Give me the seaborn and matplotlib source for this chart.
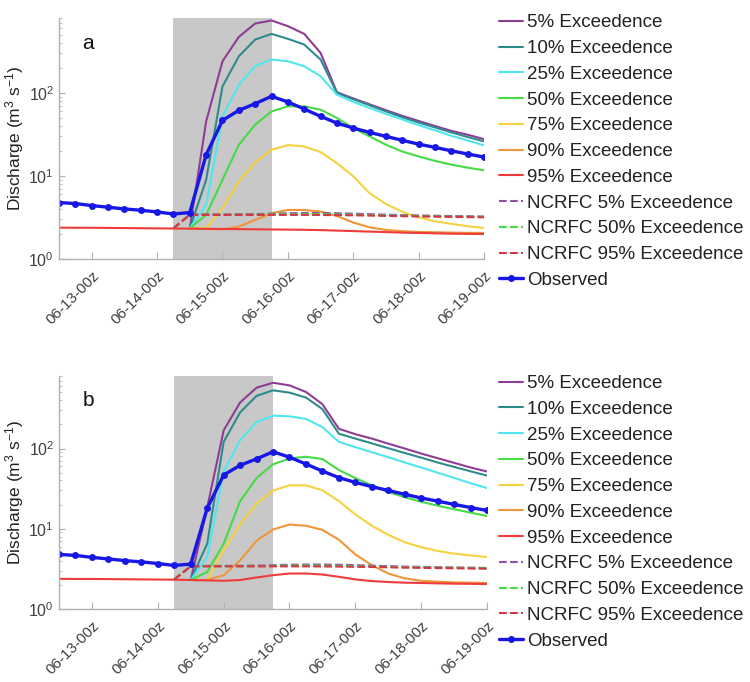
import pandas as pd
import numpy as np
import matplotlib
matplotlib.use("Agg")
import matplotlib.pyplot as plt
import matplotlib.dates as mdates
import matplotlib.ticker as mticker
import seaborn as sns

sns.set_style("white")
plt.rcParams['font.family'] = ['Liberation Sans', 'DejaVu Sans']
plt.rcParams['mathtext.default'] = 'regular'

# ---------------------------------------------
# data (6-hourly)
# ---------------------------------------------
obs_times = pd.date_range("2019-06-12 12:00", "2019-06-19 00:00", freq="6h")   # 27
fc_times = pd.date_range("2019-06-14 12:00", "2019-06-19 00:00", freq="6h")    # 19
ncrfc_times = pd.date_range("2019-06-14 06:00", "2019-06-19 00:00", freq="6h") # 20
shade_start = pd.Timestamp("2019-06-14 06:00")
shade_end = pd.Timestamp("2019-06-15 18:00")

observed = [4.79, 4.66, 4.40, 4.21, 4.01, 3.87, 3.69, 3.49, 3.63, 18.0, 46.8, 61.8, 74.3, 91.2,
            77.9, 64.1, 52.3, 43.4, 37.8, 33.5, 30.0, 26.9, 24.2, 22.1, 20.1, 18.4, 16.9]

# panel a
a_p05 = [2.34, 45.5, 241, 474, 687, 747, 638, 515, 304, 102, 86, 73, 62, 53, 46, 40, 35, 31.4, 27.8]
a_p10 = [2.34, 9.0, 120, 277, 440, 515, 449, 383, 253, 100, 84, 71, 60, 51, 44, 38.5, 33.5, 29.5, 26.1]
a_p25 = [2.34, 4.5, 52, 126, 210, 253, 241, 210, 159, 95.5, 78, 66, 56, 48, 41, 35.5, 30.5, 26.8, 23.4]
a_p50 = [2.34, 3.40, 9.0, 23.8, 41.5, 60, 69, 69, 63, 50, 37.8, 30, 23.8, 19.7, 17.2, 15.2, 13.7, 12.6, 11.7]
a_p75 = [2.34, 2.34, 4.09, 8.6, 14.7, 20.7, 23.6, 22.7, 19.4, 14.3, 9.9, 6.2, 4.6, 3.7, 3.18, 2.85, 2.65, 2.48, 2.37]
a_p90 = [2.34, 2.30, 2.28, 2.46, 2.96, 3.56, 3.90, 3.90, 3.73, 3.30, 2.75, 2.41, 2.24, 2.16, 2.12, 2.10, 2.08, 2.07, 2.06]
a_p95 = [2.39, 2.38, 2.38, 2.37, 2.36, 2.35, 2.34, 2.33, 2.32, 2.31, 2.30, 2.29, 2.28, 2.27, 2.26, 2.25,
         2.23, 2.20, 2.17, 2.14, 2.11, 2.08, 2.06, 2.04, 2.02, 2.01, 2.00]

# panel b
b_p05 = [2.3, 18.3, 168, 375, 573, 660, 612, 507, 357, 176, 151, 133, 115, 100, 86.5, 75.8, 66.3, 58, 51.7]
b_p10 = [2.3, 6.5, 121, 282, 453, 531, 497, 432, 310, 153, 133, 116, 101, 88, 77, 67, 59, 52, 46]
b_p25 = [2.3, 4.44, 51.7, 127, 213, 257, 252, 234, 185, 121, 104, 90, 78, 67, 58, 50, 43, 37, 32.2]
b_p50 = [2.3, 2.9, 6.5, 22.1, 42.8, 63.6, 75.3, 79, 74, 54, 42.8, 34.8, 28.8, 24.7, 21.7, 19.4, 17.5, 15.9, 14.4]
b_p75 = [2.3, 2.3, 5.4, 11.4, 20.7, 29.9, 34.8, 34.8, 30.2, 22.1, 15.1, 10.9, 8.4, 6.8, 5.9, 5.3, 4.9, 4.66, 4.44]
b_p90 = [2.3, 2.3, 2.64, 4.04, 7.1, 9.8, 11.3, 10.9, 9.7, 7.3, 4.79, 3.51, 2.77, 2.41, 2.25, 2.19, 2.15, 2.13, 2.11]
b_p95 = [2.38, 2.37, 2.37, 2.36, 2.35, 2.34, 2.33, 2.32, 2.30, 2.27, 2.25, 2.30, 2.47, 2.64, 2.77, 2.77,
         2.69, 2.52, 2.34, 2.23, 2.17, 2.13, 2.11, 2.09, 2.07, 2.06, 2.05]

# NCRFC (same for both panels)
ncrfc_05 = [2.34, 3.45, 3.45, 3.45, 3.46, 3.48, 3.52, 3.56, 3.58, 3.58, 3.56, 3.52, 3.47, 3.42, 3.38, 3.35, 3.32, 3.30, 3.28, 3.25]
ncrfc_50 = [2.34, 3.42, 3.42, 3.42, 3.42, 3.43, 3.45, 3.47, 3.48, 3.47, 3.45, 3.42, 3.38, 3.35, 3.32, 3.29, 3.27, 3.25, 3.23, 3.21]
ncrfc_95 = [2.34, 3.40, 3.40, 3.40, 3.40, 3.40, 3.40, 3.40, 3.40, 3.39, 3.38, 3.36, 3.34, 3.31, 3.28, 3.26, 3.24, 3.22, 3.20, 3.18]

labels = ["5% Exceedence", "10% Exceedence", "25% Exceedence", "50% Exceedence",
          "75% Exceedence", "90% Exceedence", "95% Exceedence"]
colors = ["#8e3d96", "#2f8a8c", "#4fe6ee", "#45db45", "#f5d23e", "#f0953a", "#ee3b3b"]
ncrfc_labels = ["NCRFC 5% Exceedence", "NCRFC 50% Exceedence", "NCRFC 95% Exceedence"]
ncrfc_colors = ["#8e52a8", "#45db45", "#d93346"]

fig = plt.figure(figsize=(7.5, 6.82), dpi=100)
ax_a = fig.add_axes([0.0787, 0.6202, 0.5667, 0.3534])
ax_b = fig.add_axes([0.0787, 0.1070, 0.5707, 0.3416])

panels = [
    (ax_a, "a", [a_p05, a_p10, a_p25, a_p50, a_p75, a_p90], a_p95, 0.979),
    (ax_b, "b", [b_p05, b_p10, b_p25, b_p50, b_p75, b_p90], b_p95, 0.450),
]

for ax, letter, fc_list, p95, leg_y in panels:
    ax.axvspan(shade_start, shade_end, color="#c8c8c8", lw=0, zorder=0)

    for vals, lab, col in zip(fc_list, labels[:6], colors[:6]):
        sns.lineplot(x=fc_times, y=vals, ax=ax, color=col, linewidth=1.5, label=lab)
    sns.lineplot(x=obs_times, y=p95, ax=ax, color=colors[6], linewidth=1.5, label=labels[6])

    for vals, lab, col in zip([ncrfc_05, ncrfc_50, ncrfc_95], ncrfc_labels, ncrfc_colors):
        sns.lineplot(x=ncrfc_times, y=vals, ax=ax, color=col, linewidth=1.5,
                     linestyle="--", label=lab)

    sns.lineplot(x=obs_times, y=observed, ax=ax, color="#1717e6", linewidth=2.4,
                 marker="o", markersize=5, markeredgewidth=0, label="Observed")

    ax.set_yscale("log")
    ax.set_ylim(1, 800)
    ax.set_xlim(obs_times[0], obs_times[-1])
    ax.xaxis.set_major_locator(mdates.DayLocator())
    ax.xaxis.set_major_formatter(mdates.DateFormatter("%m-%d-%Hz"))
    ax.set_yticks([1, 10, 100])
    ax.yaxis.set_minor_locator(mticker.LogLocator(base=10, subs=np.arange(2, 10)))
    ax.yaxis.set_minor_formatter(mticker.NullFormatter())

    for lbl in ax.get_xticklabels():
        lbl.set_rotation(45)
        lbl.set_ha("right")
        lbl.set_rotation_mode("anchor")
    ax.tick_params(axis="x", which="major", direction="in", length=5, color="#b0b0b0",
                   labelsize=11, labelcolor="#404040", pad=7, bottom=True)
    ax.tick_params(axis="y", which="major", direction="in", length=4, color="#b0b0b0",
                   labelsize=11.5, labelcolor="#404040", left=True)
    ax.tick_params(axis="y", which="minor", direction="in", length=2, color="#b8b8b8", left=True)

    sns.despine(ax=ax)
    for side in ["left", "bottom"]:
        ax.spines[side].set_color("#b0b0b0")
        ax.spines[side].set_linewidth(1.0)

    ax.set_xlabel("")
    ax.set_ylabel(r"Discharge (m$^3$ s$^{-1}$)", fontsize=12.5, color="#222222", labelpad=2)
    ax.text(0.055, 0.87, letter, transform=ax.transAxes, fontsize=15, color="#111111")

    ax.legend(loc="upper left", bbox_to_anchor=(0.665, leg_y), bbox_transform=fig.transFigure,
              frameon=False, fontsize=13.5, handlelength=1.3, handletextpad=0.2,
              labelspacing=0.46, borderpad=0, borderaxespad=0, labelcolor="#222222")

fig.savefig("out.png", dpi=100)
